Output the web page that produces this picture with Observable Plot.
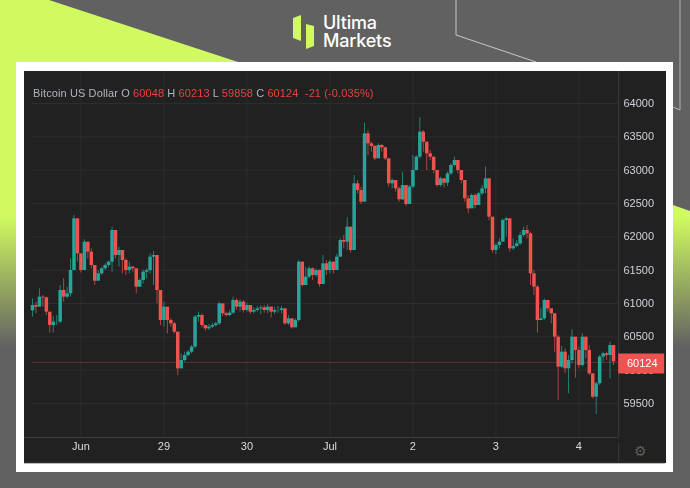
<!DOCTYPE html>
<html>
<head>
<meta charset="utf-8">
<script src="https://cdn.jsdelivr.net/npm/d3@7"></script>
<script src="https://cdn.jsdelivr.net/npm/@observablehq/plot@0.6"></script>
<style>
html,body{margin:0;padding:0;width:690px;height:488px;overflow:hidden;background:#616161;font-family:"Liberation Sans",Arial,sans-serif}
#deco{position:absolute;left:0;top:0}
#white{position:absolute;left:16px;top:62px;width:657px;height:410px;background:#fff}
#dark{position:absolute;left:24px;top:71px;width:642px;height:392px;background:#212121;overflow:hidden}
#chart{position:absolute;left:24px;top:71px;filter:blur(.6px)}
#chart svg{display:block;background:transparent;overflow:visible}
#legend{position:absolute;left:33px;top:86px;font-size:11px;line-height:14px;letter-spacing:.11px;color:#b2b5be;white-space:nowrap;filter:blur(.35px)}
#legend b{font-weight:400;color:#e8413f}
#logo{position:absolute;left:323px;top:13.5px;color:#fff;font-family:Inter,Roboto,sans-serif;font-weight:500;font-size:18px;line-height:18px;letter-spacing:-.2px}
#gear{position:absolute;left:634px;top:442px;font-family:"DejaVu Sans";font-size:14px;line-height:18px;color:#5e5e5e}
</style>
</head>
<body>
<svg id="deco" width="690" height="488">
<defs><linearGradient id="lime" gradientUnits="userSpaceOnUse" x1="0" y1="217" x2="0" y2="347">
<stop offset="0" stop-color="#d0fa60"/><stop offset="1" stop-color="#616161"/></linearGradient></defs>
<polygon points="0,0 49,0 238,62 238,488 0,488" fill="url(#lime)"/>
<polygon points="673,205 690,211 690,488 673,488" fill="url(#lime)"/>
<polyline points="456,0 456,35 536,62" fill="none" stroke="#c8c8c8" stroke-width="1"/>
<polyline points="673,107 680,110 680,0" fill="none" stroke="#b4b4b4" stroke-width="1"/>
<polygon points="301,15 293,18 293,38 301,41" fill="#d0fa60"/>
<polygon points="306,24 314,26 314,46 306,49" fill="#d0fa60"/>
</svg>
<div id="logo">Ultima<br>Markets</div>
<div id="white"></div>
<div id="dark"></div>
<div id="chart"></div>
<div id="legend">Bitcoin US Dollar O <b>60048</b> H <b>60213</b> L <b>59858</b> C <b>60124</b> &nbsp;<b>-21</b> <b>(-0.035%)</b></div>
<div id="gear">⚙</div>
<script>
const firstOpen = 60890;
const closes = [60970,60945,61095,61085,60870,60670,60720,60720,61195,61095,61145,61495,62270,61745,61495,61920,61770,61570,61335,61445,61520,61570,61620,62095,61720,61795,61645,61495,61545,61520,61245,61345,61470,61495,61695,61720,61195,60745,60945,60745,60695,60570,60020,60145,60220,60270,60345,60795,60820,60670,60620,60645,60670,60695,60995,
60845,60820,60855,61045,60945,61020,60895,60970,60870,60895,60920,60935,60895,60945,60870,60895,60895,60920,60695,60770,60635,60745,61620,61270,61395,61520,61420,61495,61285,61595,61495,61620,61495,61695,61945,61920,62145,61795,62795,62695,62520,63545,63395,63355,63170,63370,63335,63170,62795,62845,62720,62555,62770,62485,62745,62995,63195,63570,63420,63245,
63195,62995,62770,62870,62805,62945,63070,63145,62995,62845,62570,62420,62620,62470,62645,62720,62870,62295,61795,61870,61920,62245,62270,61820,61855,61895,62020,62095,62045,61445,61245,60745,60770,61045,60920,60845,60495,60045,60270,60020,60145,60495,60295,60070,60495,60295,59945,59595,59795,60195,60245,60220,60370,60124];
const highs = [61070,61020,61220,61120,61095,60820,60805,60820,61270,61370,61245,61670,62320,62270,61745,61955,61920,61820,61570,61495,61545,61595,61635,62145,62045,61845,61795,61670,61620,61555,61520,61370,61505,61520,61745,61780,61720,61095,61020,60920,60770,60720,60570,60245,60270,60295,60370,60820,60870,60845,60670,60685,60705,60720,61020,
60970,60870,60895,61095,61070,61055,61045,61005,60970,60935,60955,60965,60970,60985,60945,60945,60955,60955,60920,60820,60770,60770,61645,61620,61545,61555,61535,61520,61505,61720,61645,61645,61620,61735,61970,62020,62285,61995,62920,62845,62745,63705,63595,63420,63370,63395,63385,63345,63170,62870,62845,62745,62970,62770,62770,63220,63220,63785,63595,63320,
63295,63195,62970,62895,62870,62970,63095,63195,63145,62995,62845,62620,62645,62645,62670,62770,63045,62870,62270,61895,61970,62270,62295,62270,61970,61945,62070,62145,62170,62070,61495,61270,60920,61070,61045,60920,60845,60520,60355,60320,60220,60605,60370,60345,60545,60445,60370,59945,59820,60220,60270,60270,60420,60170];
const lows = [60795,60845,60945,60945,60820,60555,60555,60670,60695,61020,61070,61095,61495,61620,61455,61495,61670,61520,61270,61335,61420,61495,61535,61470,61670,61545,61445,61420,61445,61470,61145,61245,61295,61370,61445,61270,60995,60670,60645,60545,60645,60545,59920,60020,60120,60195,60245,60320,60720,60635,60585,60595,60620,60645,60670,
60805,60795,60805,60835,60895,60870,60855,60870,60835,60845,60870,60835,60855,60845,60785,60835,60855,60845,60670,60670,60615,60635,60720,61245,61270,61370,61345,61395,61245,61420,61420,61445,61445,61495,61695,61820,61795,61755,61995,62645,62485,62520,63220,63270,63145,63170,63270,63145,62745,62720,62670,62520,62545,62455,62545,62720,62995,63170,63270,62995,
63145,62945,62745,62745,62735,62755,62920,63045,62945,62795,62520,62345,62495,62420,62520,62620,62645,62245,61755,61735,61820,61920,61995,61770,61795,61835,61870,61995,61970,61270,61120,60555,60745,60745,60870,60695,60270,59545,60020,59945,59645,60095,59880,60020,60045,60170,59920,59570,59335,59770,60120,60145,59870,60070];
const yTicks = [59500,60000,60500,61000,61500,62000,62500,63000,63500,64000];
const xTicks = [14,38,62,86,110,134,158];
const xLabels = ["Jun","29","30","Jul","2","3","4"];
const lastPrice = 60124;
const upColor = "#26a69a", downColor = "#ef5350";

const candles = closes.map((c,i)=>({i,open:i?closes[i-1]:firstOpen,close:c,high:highs[i],low:lows[i]}));
const col = d=>d.close>=d.open?upColor:downColor;
const xAxisAt = 169.5, panelTop = 64480, axisBottom = 58990;

const chart = Plot.plot({
  width:642,height:392,marginLeft:8,marginRight:48,marginTop:0,marginBottom:26,
  style:{background:"transparent",color:"#b8bac2",fontFamily:"Liberation Sans, Arial, sans-serif",fontSize:"11px"},
  x:{type:"linear",domain:[0,168],range:[8,589]},
  y:{type:"linear",domain:[59500,64000],range:[332,32]},
  marks:[
    Plot.ruleY(yTicks,{x1:0,x2:xAxisAt,stroke:"#2d2d2d"}),
    Plot.ruleX(xTicks,{y1:axisBottom,y2:panelTop,stroke:"#2d2d2d"}),
    Plot.ruleX([xAxisAt],{y1:axisBottom,y2:panelTop,stroke:"#3c3c3c"}),
    Plot.ruleX([xAxisAt],{y1:58900,y2:58630,stroke:"#3c3c3c"}),
    Plot.ruleY([axisBottom],{x1:-2.3,x2:xAxisAt,stroke:"#3c3c3c"}),
    Plot.ruleY([58610],{x1:-2.3,x2:183,stroke:"#333"}),
    Plot.ruleY([lastPrice],{x1:0,x2:xAxisAt,dy:.5,stroke:downColor,strokeOpacity:.32}),
    Plot.axisX(xTicks,{anchor:"bottom",tickSize:0,tickPadding:5,tickFormat:d=>xLabels[xTicks.indexOf(d)],label:null,fill:"#dcdcdc",fontSize:11}),
    Plot.axisY(yTicks,{anchor:"right",tickSize:0,tickPadding:5,tickFormat:d=>String(d),label:null,fill:"#cfd1d8",fontSize:11}),
    Plot.ruleX(candles,{x:"i",y1:"low",y2:"high",stroke:col,strokeWidth:1,strokeOpacity:.7}),
    Plot.ruleX(candles,{x:"i",y1:"open",y2:"close",stroke:col,strokeWidth:3.5}),
    Plot.ruleY([lastPrice],{x1:xAxisAt,x2:182.8,dy:1.5,stroke:downColor,strokeWidth:20}),
    Plot.text([lastPrice],{y:d=>d,x:176.3,dy:1.5,text:d=>String(d),fill:"#fff",fontSize:11})
  ]
});
document.getElementById("chart").appendChild(chart);
</script>
</body>
</html>
